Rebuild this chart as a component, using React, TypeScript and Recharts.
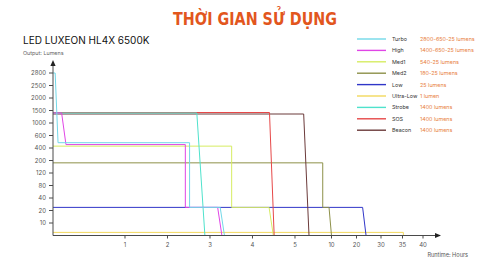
import React from 'react';
import { LineChart, Line, XAxis, YAxis } from 'recharts';

// ---- Series (runtime hours vs output lumens) ----
const seriesNames = ['Turbo', 'High', 'Med1', 'Med2', 'Low', 'Ultra-Low', 'Strobe', 'SOS', 'Beacon'];
const seriesNotes = [
  '2800-650-25 lumens',
  '1400-650-25 lumens',
  '540-25 lumens',
  '180-25 lumens',
  '25 lumens',
  '1 lumen',
  '1400 lumens',
  '1400 lumens',
  '1400 lumens',
];
const seriesColors = ['#72d8e8', '#e045e6', '#d6ec62', '#8d9049', '#3036c8', '#f3d85c', '#4fe2cc', '#e64848', '#6b3a3a'];

const turboHours = [0, 0.03, 0.07, 2.52, 2.52, 3.24, 3.34];
const turboLumens = [2800, 2800, 485, 485, 25, 25, 0];
const highHours = [0, 0.12, 0.18, 2.42, 2.42, 3.18, 3.28];
const highLumens = [1400, 1400, 455, 455, 25, 25, 0];
const med1Hours = [0, 3.51, 3.51, 4.39, 4.49];
const med1Lumens = [430, 430, 25, 25, 0];
const med2Hours = [0, 8.8, 8.8, 9.66, 10.0];
const med2Lumens = [185, 185, 25, 25, 0];
const lowHours = [0, 22.5, 23.9];
const lowLumens = [25, 25, 0];
const ultraLowHours = [0, 35.2, 35.2];
const ultraLowLumens = [2.5, 2.5, 0];
const strobeHours = [0, 2.69, 2.88];
const strobeLumens = [1400, 1400, 0];
const sosHours = [0, 4.4, 4.51];
const sosLumens = [1420, 1420, 0];
const beaconHours = [0, 6.19, 6.92];
const beaconLumens = [1360, 1360, 0];

// ---- Axis tick labels (non-uniform scales) ----
const yTickValues = [0, 10, 20, 40, 80, 120, 200, 400, 600, 1000, 1500, 2000, 2500, 2800];
const xTickHours = [0, 1, 2, 3, 4, 5, 10, 20, 30, 35, 40];
// piecewise scale stops for hours (axis units)
const xScaleStops = [0, 1.694, 2.694, 3.694, 4.694, 5.694, 6.553, 7.141, 7.718, 8.224, 8.706];
const X_MAX = 9.106;
const Y_MAX = 13.88;

const interp = (v: number, from: number[], to: number[]) => {
  if (v <= from[0]) return to[0];
  for (let i = 1; i < from.length; i++) {
    if (v <= from[i]) {
      const t = (v - from[i - 1]) / (from[i] - from[i - 1]);
      return to[i - 1] + t * (to[i] - to[i - 1]);
    }
  }
  return to[to.length - 1];
};
const yIdx = yTickValues.map((_, i) => i);
const toPoints = (hours: number[], lumens: number[]) =>
  hours.map((h, i) => ({ x: interp(h, xTickHours, xScaleStops), y: interp(lumens[i], yTickValues, yIdx) }));

const series = [
  toPoints(turboHours, turboLumens),
  toPoints(highHours, highLumens),
  toPoints(med1Hours, med1Lumens),
  toPoints(med2Hours, med2Lumens),
  toPoints(lowHours, lowLumens),
  toPoints(ultraLowHours, ultraLowLumens),
  toPoints(strobeHours, strobeLumens),
  toPoints(sosHours, sosLumens),
  toPoints(beaconHours, beaconLumens),
];
// draw order: back to front
const drawOrder = [5, 4, 3, 2, 8, 7, 6, 1, 0];

const AXIS = '#4a4a4a';
const FONT = 'Inter, "Noto Sans", sans-serif';

const XEnd = (props: any) => {
  const vb = props.viewBox || {};
  const x = (vb.x || 0) + (vb.width || 0);
  const y = vb.y || 0;
  return (
    <g>
      <polygon points={`${x + 1},${y} ${x - 5},${y - 2.6} ${x - 5},${y + 2.6}`} fill="#222" />
      <text x={x + 28} y={y + 21.5} textAnchor="end" fontSize={5.6} fill="#555" fontFamily={FONT}>
        Runtime: Hours
      </text>
    </g>
  );
};

const YEnd = (props: any) => {
  const vb = props.viewBox || {};
  const x = (vb.x || 0) + (vb.width || 0);
  const y = vb.y || 0;
  return <polygon points={`${x},${y - 2} ${x - 2.6},${y + 4} ${x + 2.6},${y + 4}`} fill="#222" />;
};

export default function App() {
  const legendTop = 39;
  const legendStep = 11.4;
  return (
    <div style={{ position: 'absolute', left: 0, top: 0, width: 480, height: 264, background: '#fff', overflow: 'hidden' }}>
      <LineChart width={480} height={264} margin={{ top: 62, right: 40, bottom: 0, left: 0 }}>
        <XAxis
          type="number"
          dataKey="x"
          domain={[0, X_MAX]}
          allowDataOverflow
          ticks={xScaleStops.slice(1)}
          interval={0}
          tickFormatter={(_v: number, i: number) => String(xTickHours[i + 1])}
          height={28.5}
          axisLine={{ stroke: AXIS, strokeWidth: 1 }}
          tickLine={{ stroke: AXIS }}
          tickSize={3}
          tickMargin={4}
          tick={{ fontSize: 6, fill: '#555', fontFamily: FONT }}
          label={<XEnd />}
        />
        <YAxis
          type="number"
          domain={[0, Y_MAX]}
          allowDataOverflow
          ticks={yIdx.slice(1)}
          interval={0}
          tickFormatter={(v: number) => String(yTickValues[Math.round(v)])}
          width={53}
          axisLine={{ stroke: AXIS, strokeWidth: 1 }}
          tickLine={{ stroke: AXIS }}
          tickSize={4}
          tickMargin={3}
          tick={{ fontSize: 6, fill: '#555', fontFamily: FONT }}
          label={<YEnd />}
        />
        {drawOrder.map((i) => (
          <Line
            key={seriesNames[i]}
            data={series[i]}
            dataKey="y"
            type="linear"
            stroke={seriesColors[i]}
            strokeWidth={1}
            dot={false}
            activeDot={false}
            isAnimationActive={false}
          />
        ))}
      </LineChart>
      <svg width={480} height={264} style={{ position: 'absolute', left: 0, top: 0, pointerEvents: 'none' }}>
        <text
          x={255}
          y={25}
          textAnchor="middle"
          fontSize={18}
          fontWeight={700}
          fill="#e2561d"
          textLength={164}
          lengthAdjust="spacingAndGlyphs"
          fontFamily='"Liberation Sans Narrow", "DejaVu Sans Condensed", sans-serif'
        >
          THỜI GIAN SỬ DỤNG
        </text>
        <text x={23} y={44} fontSize={10} fill="#111" fontFamily={FONT}>
          LED LUXEON HL4X 6500K
        </text>
        <text x={23} y={55} fontSize={5.4} fill="#666" fontFamily={FONT}>
          Output: Lumens
        </text>
        {seriesNames.map((n, i) => {
          const y = legendTop + i * legendStep;
          return (
            <g key={n}>
              <line x1={357} x2={386} y1={y} y2={y} stroke={seriesColors[i]} strokeWidth={1.4} />
              <text x={392} y={y + 2} fontSize={5.4} fill="#333" fontFamily={FONT}>
                {n}
              </text>
              <text x={420} y={y + 2} fontSize={5.4} fill="#e8803e" fontFamily={FONT}>
                {seriesNotes[i]}
              </text>
            </g>
          );
        })}
      </svg>
    </div>
  );
}
